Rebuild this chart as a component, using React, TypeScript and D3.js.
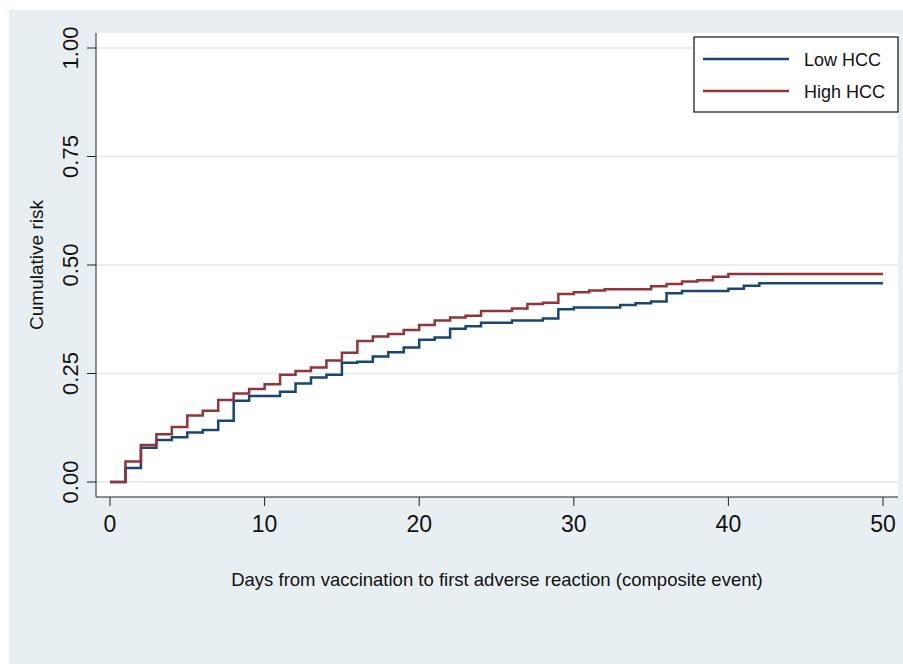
import React, { useEffect, useRef } from 'react';
import * as d3 from 'd3';

// step points: value holds from that day onward
const lowDays = [0, 1, 2, 3, 4, 5, 6, 7, 8, 9, 11, 12, 13, 14, 15, 16, 17, 18, 19, 20, 21, 22, 23, 24, 26, 28, 29, 30, 33, 34, 35, 36, 37, 40, 41, 42, 50];
const lowRisk = [0, 0.032, 0.079, 0.097, 0.103, 0.114, 0.12, 0.141, 0.187, 0.198, 0.208, 0.227, 0.241, 0.247, 0.275, 0.277, 0.289, 0.299, 0.31, 0.328, 0.333, 0.353, 0.359, 0.367, 0.372, 0.377, 0.398, 0.402, 0.408, 0.412, 0.416, 0.435, 0.44, 0.445, 0.452, 0.458, 0.458];

const highDays = [0, 1, 2, 3, 4, 5, 6, 7, 8, 9, 10, 11, 12, 13, 14, 15, 16, 17, 18, 19, 20, 21, 22, 23, 24, 26, 27, 28, 29, 30, 31, 32, 35, 36, 37, 38, 39, 40, 50];
const highRisk = [0, 0.047, 0.085, 0.11, 0.127, 0.153, 0.164, 0.189, 0.204, 0.214, 0.225, 0.247, 0.256, 0.264, 0.28, 0.298, 0.325, 0.335, 0.341, 0.35, 0.362, 0.372, 0.379, 0.383, 0.394, 0.4, 0.41, 0.413, 0.433, 0.437, 0.441, 0.444, 0.451, 0.456, 0.462, 0.465, 0.473, 0.479, 0.479];

const xTicks = [0, 10, 20, 30, 40, 50];
const yTicks = [0, 0.25, 0.5, 0.75, 1];

const seriesNames = ['Low HCC', 'High HCC'];
const seriesColors = ['#1a476f', '#90353b'];

const App = () => {
    const ref = useRef<SVGSVGElement>(null);

    useEffect(() => {
        if (!ref.current) return;
        const svg = d3.select(ref.current);
        svg.selectAll('*').remove();

        const W = 903, H = 664;
        const font = 'Arial, "Liberation Sans", Helvetica, sans-serif';

        // outer background
        svg.append('rect').attr('x', 9).attr('y', 10).attr('width', W - 9).attr('height', H - 10).attr('fill', '#e8eff2');
        // plot region
        const pl = 96, pr = 898, pt = 33, pb = 497;
        svg.append('rect').attr('x', pl).attr('y', pt).attr('width', pr - pl).attr('height', pb - pt).attr('fill', '#ffffff');

        const x = d3.scaleLinear().domain([0, 50]).range([110, 883]);
        const y = d3.scaleLinear().domain([0, 1]).range([482, 48]);

        // grid lines
        svg.append('g').selectAll('line').data(yTicks).join('line')
            .attr('x1', pl).attr('x2', pr)
            .attr('y1', d => y(d)).attr('y2', d => y(d))
            .attr('stroke', '#e6eef1').attr('stroke-width', 2);

        // axis lines
        svg.append('line').attr('x1', pl).attr('x2', pl).attr('y1', pt).attr('y2', pb).attr('stroke', '#222').attr('stroke-width', 1);
        svg.append('line').attr('x1', pl).attr('x2', pr).attr('y1', pb).attr('y2', pb).attr('stroke', '#222').attr('stroke-width', 1);

        // y ticks + labels
        const yt = svg.append('g').selectAll('g').data(yTicks).join('g');
        yt.append('line').attr('x1', 87).attr('x2', pl).attr('y1', d => y(d)).attr('y2', d => y(d)).attr('stroke', '#222');
        yt.append('text')
            .attr('transform', d => `translate(78,${y(d)}) rotate(-90)`)
            .attr('text-anchor', 'middle')
            .attr('font-family', font).attr('font-size', 22).attr('fill', '#111')
            .text(d => d.toFixed(2));

        // x ticks + labels
        const xt = svg.append('g').selectAll('g').data(xTicks).join('g');
        xt.append('line').attr('x1', d => x(d)).attr('x2', d => x(d)).attr('y1', pb).attr('y2', 506).attr('stroke', '#222');
        xt.append('text')
            .attr('x', d => x(d)).attr('y', 532)
            .attr('text-anchor', 'middle')
            .attr('font-family', font).attr('font-size', 23).attr('fill', '#111')
            .text(d => d);

        // axis titles
        svg.append('text')
            .attr('transform', `translate(43,${y(0.5)}) rotate(-90)`)
            .attr('text-anchor', 'middle')
            .attr('font-family', font).attr('font-size', 19).attr('fill', '#111')
            .text('Cumulative risk');
        svg.append('text')
            .attr('x', 497).attr('y', 586)
            .attr('text-anchor', 'middle')
            .attr('font-family', font).attr('font-size', 18.5).attr('fill', '#111')
            .text('Days from vaccination to first adverse reaction (composite event)');

        // curves
        const line = d3.line<[number, number]>()
            .x(d => x(d[0])).y(d => y(d[1]))
            .curve(d3.curveStepAfter);
        const series: [number, number][][] = [
            lowDays.map((d, i) => [d, lowRisk[i]]),
            highDays.map((d, i) => [d, highRisk[i]]),
        ];
        series.forEach((pts, i) => {
            svg.append('path')
                .datum(pts)
                .attr('fill', 'none')
                .attr('stroke', seriesColors[i])
                .attr('stroke-width', 2.5)
                .attr('d', line);
        });

        // legend
        const lg = svg.append('g');
        lg.append('rect').attr('x', 694).attr('y', 37).attr('width', 204).attr('height', 75)
            .attr('fill', '#fff').attr('stroke', '#111').attr('stroke-width', 1.2);
        seriesNames.forEach((name, i) => {
            const ly = 59 + i * 32;
            lg.append('line').attr('x1', 703).attr('x2', 789).attr('y1', ly).attr('y2', ly)
                .attr('stroke', seriesColors[i]).attr('stroke-width', 2.5);
            lg.append('text').attr('x', 804).attr('y', ly + 7)
                .attr('font-family', font).attr('font-size', 18).attr('fill', '#111')
                .text(name);
        });
    }, []);

    return (
        <svg ref={ref} width={903} height={664} style={{ position: 'absolute', left: 0, top: 0, background: '#fff' }} />
    );
};

export default App;
